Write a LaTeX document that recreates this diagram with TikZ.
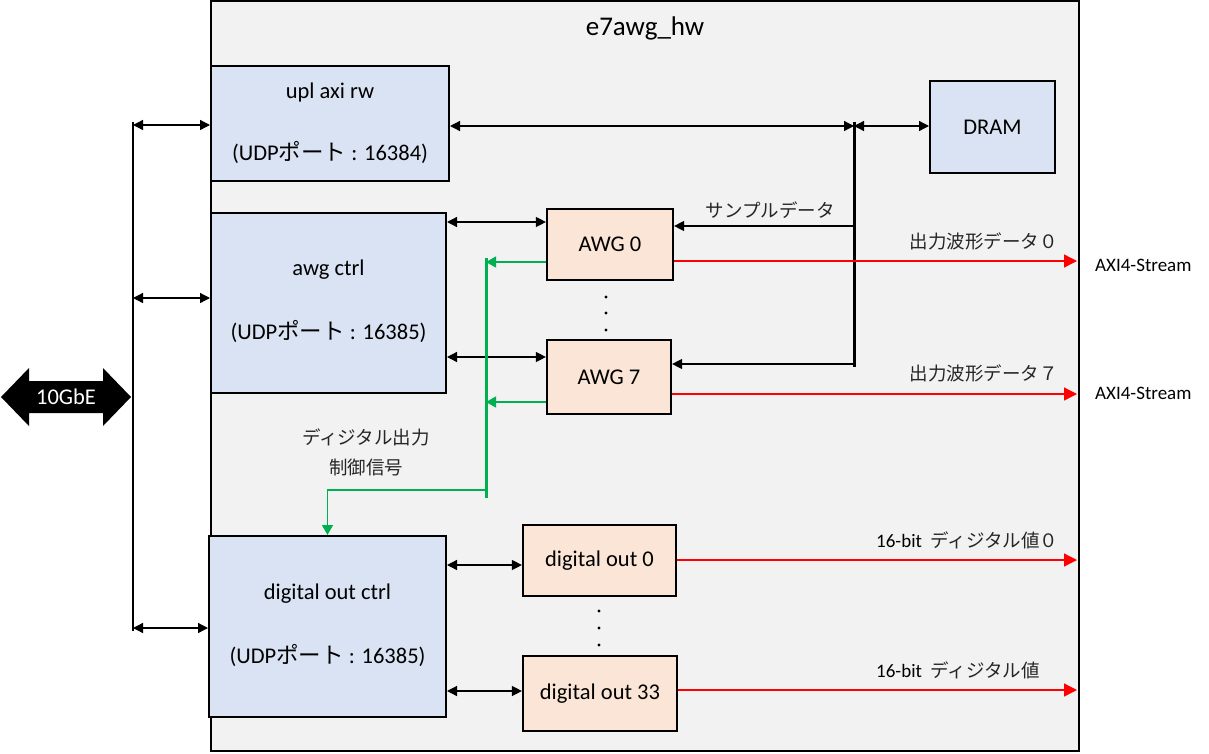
\documentclass[tikz,border=0pt]{standalone}
\usepackage{fontspec}
\setmainfont{Carlito}
\newfontfamily\jp{Noto Sans CJK JP}
\usetikzlibrary{arrows.meta,calc}
\definecolor{hwgray}{HTML}{F2F2F2}
\definecolor{bluefill}{HTML}{DAE3F3}
\definecolor{peachfill}{HTML}{FBE5D6}
\definecolor{grn}{HTML}{00B050}
\definecolor{rd}{HTML}{FF0000}
\begin{document}
\begin{tikzpicture}[x=1pt,y=-1pt,
  bbox/.style={draw,line width=2pt,fill=bluefill,inner sep=0pt},
  pbox/.style={draw,line width=2.2pt,fill=peachfill,inner sep=0pt,font=\fontsize{22.5}{27}\selectfont},
  maintxt/.style={inner sep=0pt,font=\fontsize{22.5}{27}\selectfont},
  jlbl/.style={inner sep=0pt,font=\jp\fontsize{18.5}{22}\selectfont,text=black!85},
  slbl/.style={inner sep=0pt,font=\fontsize{19}{23}\selectfont},
  dbl/.style={line width=1.3pt,{Triangle[length=10pt,width=10pt]}-{Triangle[length=10pt,width=10pt]}},
  sarr/.style={line width=1.3pt,-{Triangle[length=10pt,width=10pt]}},
  redarr/.style={draw=rd,line width=1.3pt,-{Triangle[length=13pt,width=13pt]},rd},
  grnarr/.style={draw=grn,line width=1.3pt,-{Triangle[length=10pt,width=11pt]},grn},
  dot/.style={circle,fill=black,inner sep=0pt,minimum size=3.2pt}]
\useasboundingbox (0,0) rectangle (1209,753);
% outer block
\node[draw,line width=1.5pt,fill=hwgray,minimum width=868pt,minimum height=750pt,inner sep=0pt] (hw) at (645,376) {};
\node[inner sep=0pt,font=\fontsize{27}{32}\selectfont] (title) at (645,28) {e7awg\_hw};
% blue boxes
\node[bbox,minimum width=238pt,minimum height=115pt] (upl) at (330,123.5) {};
\node[maintxt] (uplA) at (330,92) {upl axi rw};
\node[maintxt] (uplB) at (330,153) {(UDP{\jp ポート} : 16384)};
\node[bbox,minimum width=235pt,minimum height=180pt] (actrl) at (328.5,303) {};
\node[maintxt] (actrlA) at (328.5,270) {awg ctrl};
\node[maintxt] (actrlB) at (328.5,332) {(UDP{\jp ポート} : 16385)};
\node[bbox,minimum width=237pt,minimum height=181pt] (dctrl) at (327.5,626.5) {};
\node[maintxt] (dctrlA) at (327.5,594) {digital out ctrl};
\node[maintxt] (dctrlB) at (327.5,655) {(UDP{\jp ポート} : 16385)};
\node[bbox,minimum width=125pt,minimum height=92pt,font=\fontsize{22.5}{27}\selectfont] (dram) at (992.5,127) {DRAM};
% peach boxes
\node[pbox,minimum width=126pt,minimum height=71pt] (awg0) at (610,244.5) {AWG 0};
\node[pbox,minimum width=124pt,minimum height=74pt] (awg7) at (609,377) {AWG 7};
\node[pbox,minimum width=153pt,minimum height=71pt] (dout0) at (599.5,560.5) {digital out 0};
\node[pbox,minimum width=154pt,minimum height=75pt] (dout33) at (600,693.5) {digital out 33};
% dots
\node[dot] (d1) at (606,297) {};
\node[dot] (d2) at (606,313) {};
\node[dot] (d3) at (606,330) {};
\node[dot] (d4) at (599,611) {};
\node[dot] (d5) at (599,628) {};
\node[dot] (d6) at (599,645) {};
% 10GbE
\coordinate (g1) at (1,397);
\coordinate (g2) at (131,397);
\fill (g1) -- (29,368) -- (29,381) -- (103,381) -- (103,368) -- (g2) -- (103,426) -- (103,413) -- (29,413) -- (29,426) -- cycle;
\node[inner sep=0pt,text=white,font=\fontsize{22.5}{27}\selectfont] (gbe) at (66,397) {10GbE};
% left bus
\coordinate (lt) at (133,122);
\coordinate (lb) at (133,631);
\draw[line width=1.3pt] (lt) -- (lb);
\draw[dbl] (lt |- 0,125) -- (upl.west |- 0,125);
\draw[dbl] (lt |- 0,298) -- (actrl.west |- 0,298);
\draw[dbl] (lt |- 0,628) -- (dctrl.west |- 0,628);
% memory bus
\coordinate (bt) at (854,122);
\coordinate (bb) at (854,367);
\draw[line width=3pt] (bt) -- (bb);
\draw[dbl] (upl.east |- 0,126) -- (bt |- 0,126);
\draw[dbl] (bt |- 0,126) -- (dram.west |- 0,126);
\draw[sarr] (bt |- 0,226) -- (awg0.east |- 0,226);
\draw[sarr] (bt |- 0,364) -- (awg7.east |- 0,364);
\node[jlbl] (sdl) at (770,210) {サンプルデータ};
% ctrl to AWG / digital out
\draw[dbl] (actrl.east |- 0,222) -- (awg0.west |- 0,222);
\draw[dbl] (actrl.east |- 0,357) -- (awg7.west |- 0,357);
\draw[dbl] (dctrl.east |- 0,565) -- (dout0.west |- 0,565);
\draw[dbl] (dctrl.east |- 0,691) -- (dout33.west |- 0,691);
% red outputs
\coordinate (ro) at (1077,0);
\draw[redarr] (awg0.east |- 0,261) -- (ro |- 0,261);
\draw[redarr] (awg7.east |- 0,394) -- (ro |- 0,394);
\draw[redarr] (dout0.east |- 0,560) -- (ro |- 0,560);
\draw[redarr] (dout33.east |- 0,690) -- (ro |- 0,690);
\node[jlbl,anchor=east] (o0) at (1058,241) {出力波形データ０};
\node[jlbl,anchor=east] (o7) at (1058,373) {出力波形データ７};
\node[slbl,anchor=west] (ax0) at (1095,265) {AXI4-Stream};
\node[slbl,anchor=west] (ax7) at (1095,393) {AXI4-Stream};
\node[slbl,anchor=west] (dv0) at (876,540) {16-bit\ \ {\jp\fontsize{18.5}{22}\selectfont\color{black!85}ディジタル値０}};
\node[slbl,anchor=west] (dv33) at (876,670) {16-bit\ \ {\jp\fontsize{18.5}{22}\selectfont\color{black!85}ディジタル値}};
% green control
\coordinate (gt) at (486,258);
\coordinate (gb) at (486,498);
\draw[grn,line width=3pt] (gt) -- (gb);
\draw[grnarr] (awg0.west |- 0,262) -- (gt |- 0,262);
\draw[grnarr] (awg7.west |- 0,402) -- (gt |- 0,402);
\coordinate (gc) at (486,490);
\draw[grnarr] (gc) -| (dctrl.north);
\node[jlbl] (gl1) at (366,437) {ディジタル出力};
\node[jlbl] (gl2) at (366,467) {制御信号};
\end{tikzpicture}
\end{document}
